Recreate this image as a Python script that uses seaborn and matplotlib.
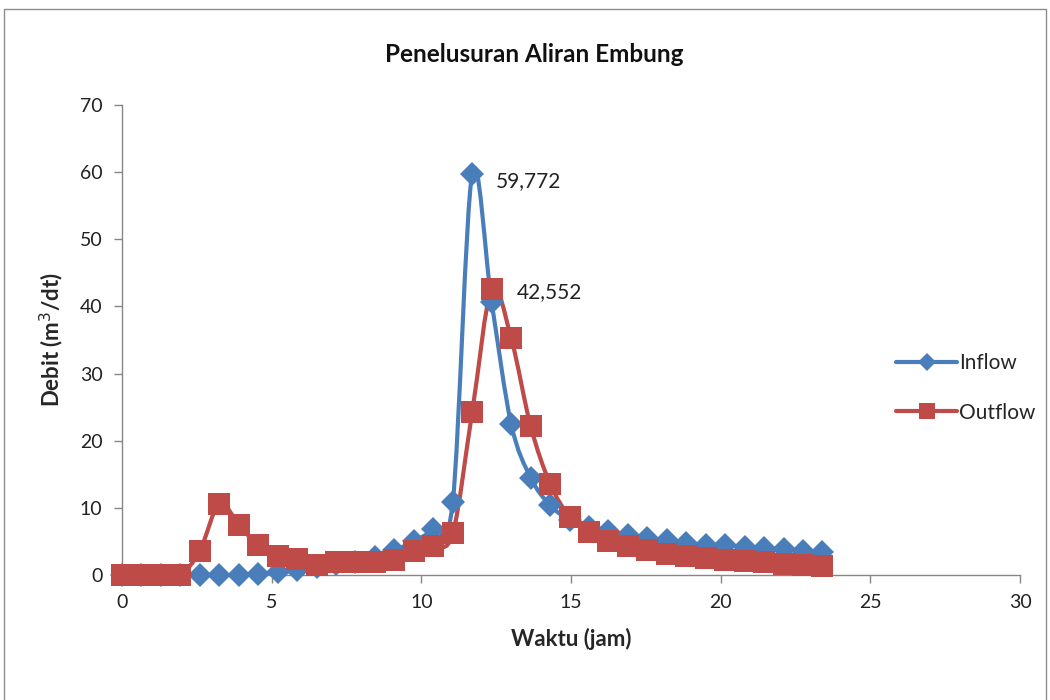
import numpy as np
import matplotlib
matplotlib.use("Agg")
import matplotlib.pyplot as plt
import seaborn as sns
from matplotlib.path import Path
from matplotlib.patches import PathPatch, Rectangle
from matplotlib.lines import Line2D

# data (time step 0.65 h)
waktu = [0, 0.65, 1.3, 1.95, 2.6, 3.25, 3.9, 4.55, 5.2, 5.85, 6.5, 7.15, 7.8, 8.45,
         9.1, 9.75, 10.4, 11.05, 11.7, 12.35, 13.0, 13.65, 14.3, 14.95, 15.6, 16.25,
         16.9, 17.55, 18.2, 18.85, 19.5, 20.15, 20.8, 21.45, 22.1, 22.75, 23.4]
inflow = [0, 0, 0, 0, 0, 0, 0, 0.1, 0.4, 0.8, 1.2, 1.6, 2.0, 2.7, 3.7, 5.0, 6.9, 10.9,
          59.772, 40.6, 22.5, 14.5, 10.4, 8.2, 7.1, 6.5, 6.0, 5.5, 5.2, 4.8, 4.5, 4.4,
          4.2, 4.0, 3.8, 3.6, 3.4]
outflow = [0, 0, 0, 0, 3.6, 10.6, 7.5, 4.4, 2.9, 2.4, 1.5, 1.9, 2.0, 2.0, 2.3, 3.6, 4.3, 6.2,
           24.3, 42.552, 35.3, 22.2, 13.6, 8.7, 6.4, 5.0, 4.3, 3.7, 3.2, 2.9, 2.6, 2.3,
           2.1, 1.9, 1.7, 1.5, 1.3]
series_names = ["Inflow", "Outflow"]
peak_labels = ["59,772", "42,552"]

BLUE = "#4A7EBB"
RED = "#BE4B48"

sns.set_theme(style="white")
plt.rcParams["font.family"] = ["Lato", "DejaVu Sans"]


def smooth_path(xs, ys):
    # Excel-like smoothed line: cubic bezier through the points
    p = np.column_stack([xs, ys]).astype(float)
    verts = [p[0]]
    codes = [Path.MOVETO]
    n = len(p)
    for i in range(n - 1):
        p0 = p[i - 1] if i > 0 else p[i]
        p3 = p[i + 2] if i + 2 < n else p[i + 1]
        c1 = p[i] + (p[i + 1] - p0) / 6.0
        c2 = p[i + 1] - (p3 - p[i]) / 6.0
        verts += [c1, c2, p[i + 1]]
        codes += [Path.CURVE4] * 3
    return Path(verts, codes)


fig = plt.figure(figsize=(10.5, 7), dpi=100)
ax = fig.add_axes([122 / 1050, 1 - 575 / 700, (1020 - 122) / 1050, (575 - 105) / 700])

for ys, col, mk, ms in [(inflow, BLUE, "D", 12.5), (outflow, RED, "s", 15.5)]:
    ax.add_patch(PathPatch(smooth_path(waktu, ys), facecolor="none", edgecolor=col,
                           lw=3, zorder=2, capstyle="round"))
    sns.lineplot(x=waktu, y=ys, ax=ax, linestyle="", marker=mk, markersize=ms,
                 color=col, markeredgecolor=col, markeredgewidth=0, zorder=3)

ax.set_xlim(0, 30)
ax.set_ylim(0, 70)
ax.set_xticks(range(0, 31, 5))
ax.set_yticks(range(0, 71, 10))
ax.tick_params(axis="both", which="both", direction="out", length=6, width=1,
               color="#868686", labelsize=14, labelcolor="#222222", pad=8,
               bottom=True, left=True)
for side in ["top", "right"]:
    ax.spines[side].set_visible(False)
for side in ["left", "bottom"]:
    ax.spines[side].set_color("#868686")
    ax.spines[side].set_linewidth(1)
for c in ax.collections + ax.lines + ax.patches:
    c.set_clip_on(False)

ax.set_xlabel("Waktu (jam)", fontsize=16, fontweight="bold", labelpad=12)
ax.set_ylabel("Debit (m$^3$/dt)", fontsize=16, fontweight="bold", labelpad=10)

# peak labels
i_in = int(np.argmax(inflow))
i_out = int(np.argmax(outflow))
ax.annotate(peak_labels[0], (waktu[i_in], inflow[i_in]), xytext=(24, -7),
            textcoords="offset pixels", fontsize=15, va="center", ha="left", color="#222222")
ax.annotate(peak_labels[1], (waktu[i_out], outflow[i_out]), xytext=(25, -3),
            textcoords="offset pixels", fontsize=15, va="center", ha="left", color="#222222")

fig.text(534 / 1050, 1 - 55 / 700, "Penelusuran Aliran Embung", ha="center", va="center",
         fontsize=17.5, fontweight="bold", color="#111111")

handles = [Line2D([], [], color=BLUE, lw=3, marker="D", markersize=9, markeredgewidth=0),
           Line2D([], [], color=RED, lw=3, marker="s", markersize=12, markeredgewidth=0)]
fig.legend(handles, series_names, loc="center left",
           bbox_to_anchor=(888 / 1050, 1 - 388 / 700), frameon=False, fontsize=15,
           handlelength=2.9, handletextpad=0.1, labelspacing=1.4, borderaxespad=0)

fig.add_artist(Rectangle((4 / 1050, -0.01), 1042 / 1050, (700 - 9) / 700 + 0.01,
                         transform=fig.transFigure, fill=False, edgecolor="#8c8c8c", lw=1))

fig.savefig("out.png", dpi=100)
